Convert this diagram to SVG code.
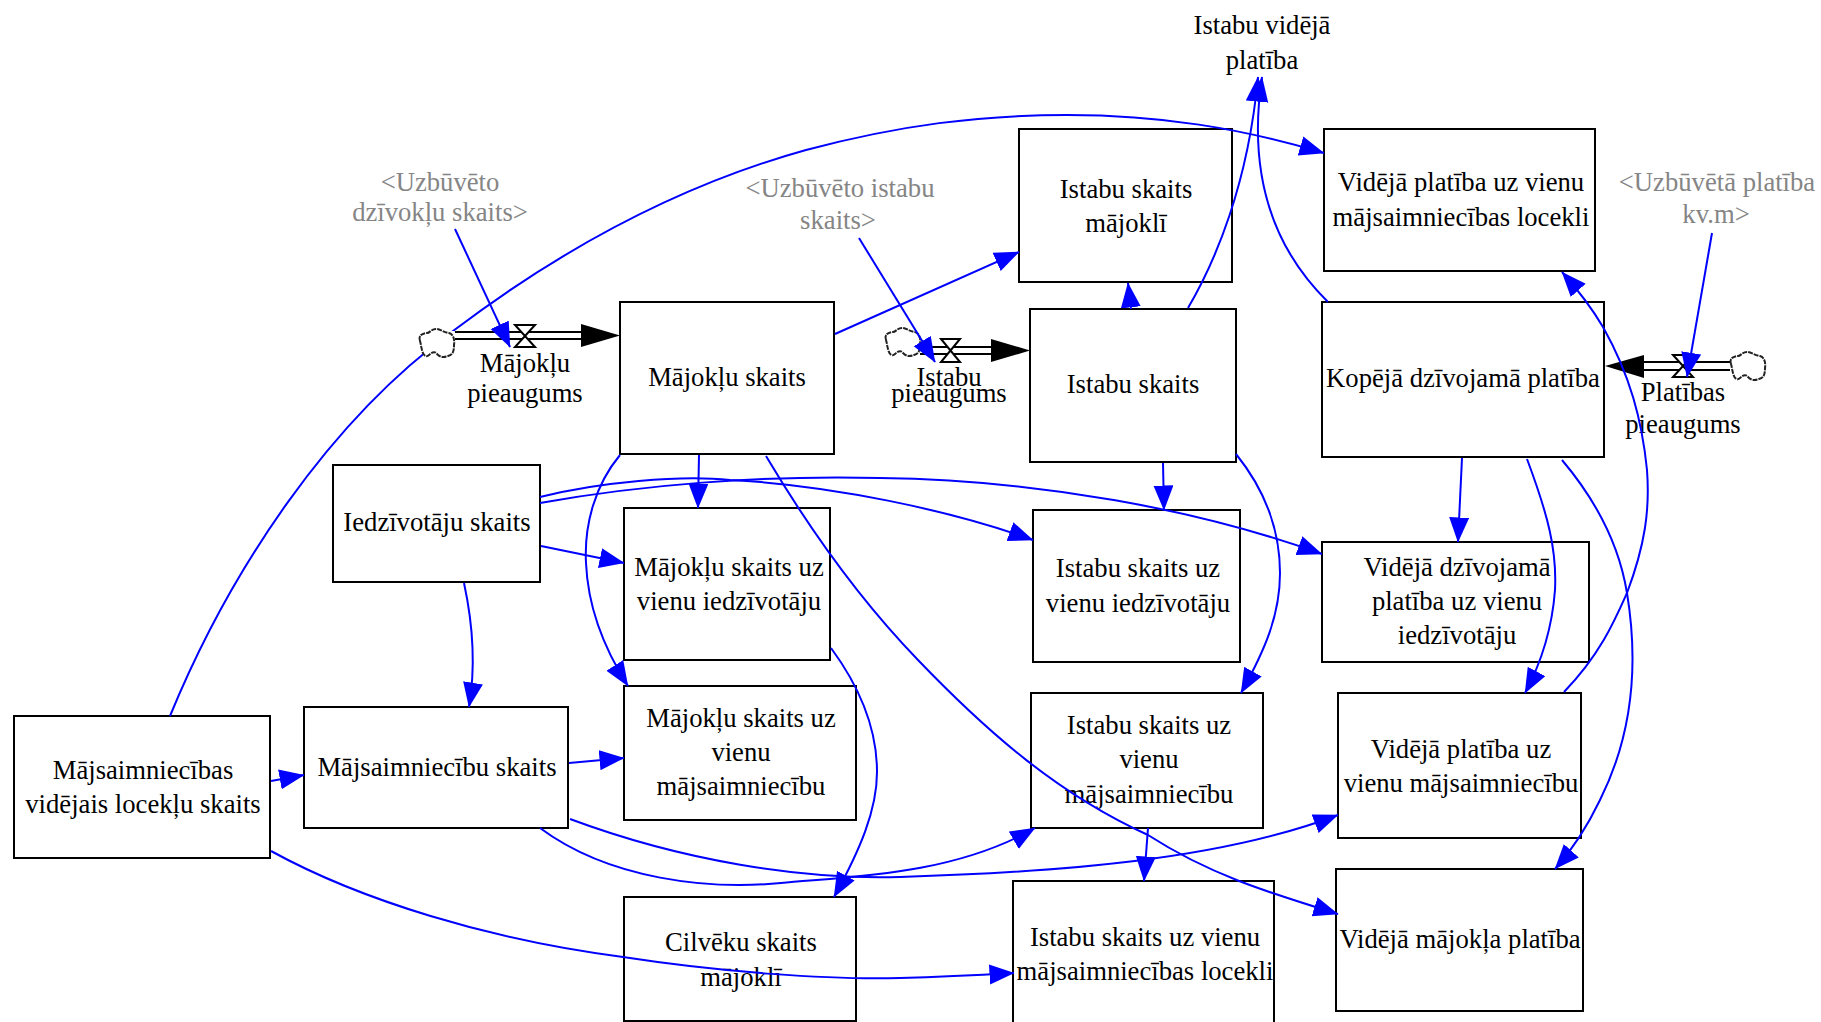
<svg xmlns="http://www.w3.org/2000/svg" width="1821" height="1022" viewBox="0 0 1821 1022">
<style>
text{font-family:"Liberation Serif","Times New Roman",serif;font-size:26.67px;fill:#000;text-anchor:middle;transform:translate(0,-1px)}
.g{fill:#858585}
.b{fill:#fff;stroke:#000;stroke-width:2}
.c{fill:none;stroke:#0000ff;stroke-width:2;marker-end:url(#ah)}
.p{fill:none;stroke:#000;stroke-width:2}
.h{fill:#000;stroke:none}
.v{fill:#fff;stroke:#000;stroke-width:2}
.cl{fill:#fff;stroke:#222;stroke-width:2;stroke-dasharray:5 1}
</style>
<defs>
<marker id="ah" markerUnits="userSpaceOnUse" markerWidth="28" markerHeight="22" refX="24.5" refY="10" orient="auto"><path d="M0,0L25,10L0,20Z" fill="#0000ff"/></marker>
<path id="cloud" d="M1,12 C-1,7 3,4 8,4 C11,4 12,0 17,0 C21,0 24,3 30,4 C34,5 36,10 35,16 C35,22 34,26 29,27 C24,29 21,28 18,25 C16,22 13,23 10,26 C7,29 4,26 3,21 C2,18 2,15 1,12Z"/>
</defs>

<g id="n-majoklu-skaits"><rect class="b" x="620" y="302" width="214" height="152"/><text x="727" y="387">Mājokļu skaits</text></g>
<g id="n-istabu-majokli"><rect class="b" x="1019" y="129" width="213" height="153"/><text x="1126" y="199">Istabu skaits</text><text x="1126" y="233">mājoklī</text></g>
<g id="n-istabu-skaits"><rect class="b" x="1030" y="309" width="206" height="153"/><text x="1133" y="394">Istabu skaits</text></g>
<g id="n-plat-locekli"><rect class="b" x="1324" y="129" width="271" height="142"/><text x="1461" y="192">Vidējā platība uz vienu</text><text x="1461" y="227">mājsaimniecības locekli</text></g>
<g id="n-kopeja"><rect class="b" x="1322" y="302" width="282" height="155"/><text x="1463" y="388">Kopējā dzīvojamā platība</text></g>
<g id="n-iedz"><rect class="b" x="333" y="465" width="207" height="117"/><text x="437" y="532">Iedzīvotāju skaits</text></g>
<g id="n-maj-iedz"><rect class="b" x="624" y="508" width="206" height="152"/><text x="729" y="577">Mājokļu skaits uz</text><text x="729" y="611">vienu iedzīvotāju</text></g>
<g id="n-ist-iedz"><rect class="b" x="1033" y="510" width="207" height="152"/><text x="1138" y="578">Istabu skaits uz</text><text x="1138" y="613">vienu iedzīvotāju</text></g>
<g id="n-vid-dziv"><rect class="b" x="1322" y="542" width="267" height="120"/><text x="1457" y="577">Vidējā dzīvojamā</text><text x="1457" y="611">platība uz vienu</text><text x="1457" y="645">iedzīvotāju</text></g>
<g id="n-maj-vid"><rect class="b" x="14" y="716" width="256" height="142"/><text x="143" y="780">Mājsaimniecības</text><text x="143" y="814">vidējais locekļu skaits</text></g>
<g id="n-maj-skaits"><rect class="b" x="304" y="707" width="264" height="121"/><text x="437" y="777">Mājsaimniecību skaits</text></g>
<g id="n-maj-majs"><rect class="b" x="624" y="686" width="232" height="134"/><text x="741" y="728">Mājokļu skaits uz</text><text x="741" y="762">vienu</text><text x="741" y="796">mājsaimniecību</text></g>
<g id="n-ist-majs"><rect class="b" x="1031" y="693" width="232" height="135"/><text x="1149" y="735">Istabu skaits uz</text><text x="1149" y="769">vienu</text><text x="1149" y="804">mājsaimniecību</text></g>
<g id="n-vid-plat-majs"><rect class="b" x="1338" y="693" width="243" height="145"/><text x="1461" y="759">Vidējā platība uz</text><text x="1461" y="793">vienu mājsaimniecību</text></g>
<g id="n-cilveku"><rect class="b" x="624" y="897" width="232" height="124"/><text x="741" y="952">Cilvēku skaits</text><text x="741" y="987">mājoklī</text></g>
<g id="n-ist-locekli"><rect class="b" x="1013" y="881" width="261" height="150"/><text x="1145" y="947">Istabu skaits uz vienu</text><text x="1145" y="981">mājsaimniecības locekli</text></g>
<g id="n-vid-majokla"><rect class="b" x="1336" y="869" width="247" height="142"/><text x="1460" y="949">Vidējā mājokļa platība</text></g>
<g id="n-ist-vid-plat"><text x="1262" y="35">Istabu vidējā</text><text x="1262" y="70">platība</text></g>
<g id="n-uzb-dziv"><text class="g" x="440" y="192">&lt;Uzbūvēto</text><text class="g" x="440" y="222">dzīvokļu skaits&gt;</text></g>
<g id="n-uzb-ist"><text class="g" x="840" y="198">&lt;Uzbūvēto istabu</text><text class="g" x="838" y="230">skaits&gt;</text></g>
<g id="n-uzb-plat"><text class="g" x="1717" y="192">&lt;Uzbūvētā platība</text><text class="g" x="1716" y="224">kv.m&gt;</text></g>

<g id="flow-majoklu">
<path class="p" d="M455,332H584M455,339H584"/><path class="h" d="M581,324L620,335.500L581,347Z"/>
<path class="v" d="M515,325H535L515,347H535Z"/>
<text x="525" y="373">Mājokļu</text><text x="525" y="403">pieaugums</text>
</g>
<g id="flow-istabu">
<use href="#cloud" class="cl" x="885" y="328"/>
<path class="p" d="M920,347H994M920,354H994"/><path class="h" d="M991,339L1030,350.500L991,362Z"/>
<path class="v" d="M941,339H960L941,362H960Z"/>
<text x="949" y="387">Istabu</text><text x="949" y="403">pieaugums</text>
</g>
<g id="flow-platibas">
<path class="p" d="M1641,362H1730M1641,370H1730"/><path class="h" d="M1644,355L1605,366L1644,378Z"/>
<path class="v" d="M1673,355H1693L1673,377H1693Z"/>
<use href="#cloud" class="cl" x="1730" y="352"/>
<text x="1683" y="402">Platības</text><text x="1683" y="434">pieaugums</text>
</g>

<g id="connectors">
<path class="c" d="M170,716C230,570 330,420 453,331C560,250 680,185 806,150C900,125 980,115 1067,115C1160,115 1240,128 1324,153"/>
<path class="c" d="M835,334L1019,252"/>
<path class="c" d="M455,229L510,347"/>
<path class="c" d="M859,238L935,362"/>
<path class="c" d="M1131,309L1128,283"/>
<path class="c" d="M1188,308C1215,262 1248,185 1258,77"/>
<path class="c" d="M1328,302C1270,245 1248,170 1262,77"/>
<path class="c" d="M1712,233L1687,377"/>
<path class="c" d="M1564,692C1600,655 1615,620 1627,593C1645,545 1650,510 1647,470C1642,420 1630,375 1603,327C1590,305 1578,290 1562,272"/>
<path class="c" d="M699,455L698,508"/>
<path class="c" d="M620,455C595,485 584,525 586,563C588,610 605,650 628,686"/>
<path class="c" d="M766,456C810,530 860,600 918,660C990,735 1060,795 1148,835C1210,875 1270,893 1338,914"/>
<path class="c" d="M541,546L624,563"/>
<path class="c" d="M540,497C600,482 680,475 730,480C830,485 950,510 1033,540"/>
<path class="c" d="M540,503C640,485 760,475 880,478C1040,480 1200,510 1322,554"/>
<path class="c" d="M464,583C472,620 476,665 469,707"/>
<path class="c" d="M831,648C862,690 877,730 877,772C877,810 860,850 834,897"/>
<path class="c" d="M1163,463L1164,510"/>
<path class="c" d="M1236,454C1265,490 1280,530 1280,573C1280,615 1265,650 1241,693"/>
<path class="c" d="M1462,458L1458,542"/>
<path class="c" d="M1527,459C1548,515 1557,550 1555,590C1552,630 1540,665 1525,693"/>
<path class="c" d="M1562,460C1600,505 1620,550 1627,593C1638,660 1635,730 1600,800C1588,825 1572,850 1555,869"/>
<path class="c" d="M271,781L304,775"/>
<path class="c" d="M569,763L624,758"/>
<path class="c" d="M570,819C680,860 800,880 900,877C1060,872 1220,860 1338,815"/>
<path class="c" d="M540,828C610,880 710,890 781,883C840,877 950,877 1035,828"/>
<path class="c" d="M271,851C360,900 490,940 623,957C720,972 830,980 900,978C940,977 980,975 1014,973"/>
<path class="c" d="M1148,828L1144,881"/>
</g>
<g id="cloud-majoklu"><rect x="423" y="331" width="31" height="26" fill="#fff"/><use href="#cloud" class="cl" x="419" y="329"/></g>
</svg>
